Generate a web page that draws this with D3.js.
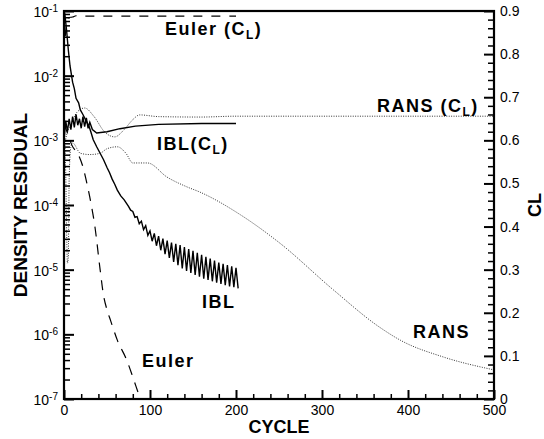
<!DOCTYPE html>
<html>
<head>
<meta charset="utf-8">
<script src="https://cdn.jsdelivr.net/npm/d3@7"></script>
<style>
  body { margin: 0; background: #fff; }
  svg { display: block; }
  text { font-family: "Liberation Sans", Arial, Helvetica, sans-serif; fill: #000; }
</style>
</head>
<body>
<div class="svg-container"></div>
<script>
// cycle / log10(residual)
var iblResCycle = [0, 1, 3, 5, 7, 10, 12, 14, 17, 19, 22, 25, 27, 29, 31, 34, 38, 42, 46, 50, 53, 56, 59, 62, 66];
var iblResLog   = [-1.0, -1.05, -1.3, -1.6, -1.85, -2.1, -2.2, -2.35, -2.42, -2.53, -2.6, -2.68, -2.73, -2.78, -2.86, -2.99, -3.1, -3.2, -3.3, -3.42, -3.5, -3.6, -3.68, -3.77, -3.86];
// sawtooth part of the IBL residual: one tooth per entry
var iblToothCycle = [70, 75, 80, 85, 90, 95, 100, 105, 110, 115, 120, 125, 130, 135, 140, 145, 150, 155, 160, 165, 170, 175, 180, 185, 190, 195, 200];
var iblToothHigh  = [-3.92, -4.02, -4.1, -4.18, -4.25, -4.32, -4.4, -4.44, -4.48, -4.52, -4.55, -4.58, -4.6, -4.62, -4.65, -4.68, -4.71, -4.74, -4.77, -4.8, -4.83, -4.86, -4.89, -4.91, -4.93, -4.95, -4.97];
var iblToothLow   = [-3.97, -4.08, -4.19, -4.29, -4.38, -4.47, -4.56, -4.63, -4.7, -4.76, -4.82, -4.88, -4.93, -4.98, -5.02, -5.05, -5.08, -5.11, -5.14, -5.16, -5.18, -5.2, -5.22, -5.24, -5.26, -5.27, -5.29];

var eulerResCycle = [0, 5, 9, 17, 22, 25, 30, 36, 42, 46, 50, 54, 62, 73, 80, 88, 91];
var eulerResLog   = [-2.75, -2.92, -3.07, -3.23, -3.41, -3.57, -3.88, -4.34, -5.0, -5.4, -5.62, -5.78, -6.09, -6.4, -6.66, -6.97, -7.08];

var ransResCycle = [0, 2, 4, 5, 6, 8, 10, 19, 30, 42, 50, 62, 72, 80, 97, 120, 143, 158, 205, 251, 313, 367, 391, 441, 500];
var ransResLog   = [-2.6, -3.5, -4.9, -4.8, -3.6, -3.1, -3.04, -3.2, -3.22, -3.2, -3.13, -3.1, -3.2, -3.35, -3.35, -3.57, -3.72, -3.8, -4.15, -4.59, -5.31, -5.89, -6.09, -6.35, -6.55];

// lift coefficient (right axis)
var iblClCycle = [0, 2, 4, 6, 8, 10, 12, 14, 16, 18, 20, 22, 24, 26, 28, 30, 33, 38, 50, 65, 83, 110, 160, 200];
var iblClValue = [0.6, 0.645, 0.62, 0.65, 0.625, 0.655, 0.63, 0.66, 0.635, 0.65, 0.628, 0.655, 0.632, 0.652, 0.628, 0.642, 0.625, 0.617, 0.62, 0.627, 0.633, 0.637, 0.639, 0.639];

var eulerClCycle = [0, 3, 6, 10, 14, 17, 20, 60, 120, 200];
var eulerClValue = [0.8, 0.87, 0.885, 0.886, 0.889, 0.887, 0.888, 0.888, 0.888, 0.888];

var ransClCycle = [0, 4, 7, 15, 24, 35, 47, 59, 70, 80, 88, 110, 159, 200, 300, 400, 500];
var ransClValue = [0.58, 0.62, 0.631, 0.665, 0.675, 0.655, 0.62, 0.608, 0.625, 0.648, 0.659, 0.655, 0.654, 0.656, 0.656, 0.656, 0.656];

var xMajor = [0, 100, 200, 300, 400, 500];
var yDecades = [-7, -6, -5, -4, -3, -2, -1];
var clMajor = [0, 0.1, 0.2, 0.3, 0.4, 0.5, 0.6, 0.7, 0.8, 0.9];

var width = 544, height = 439;
var pL = 64, pR = 494, pT = 11, pB = 399;

var svg = d3.select(".svg-container").append("svg")
  .attr("width", width).attr("height", height);

var x = d3.scaleLinear().domain([0, 500]).range([pL, pR]);
var yRes = d3.scaleLog().domain([1e-7, 1e-1]).range([pB, pT]);
var yCl = d3.scaleLinear().domain([0, 0.9]).range([pB, pT]);

svg.append("clipPath").attr("id", "plot")
  .append("rect").attr("x", pL).attr("y", pT)
  .attr("width", pR - pL).attr("height", pB - pT);

var zip = (cs, vs) => cs.map((c, i) => [c, vs[i]]);

var resLine = d3.line().x(d => x(d[0])).y(d => yRes(Math.pow(10, d[1])));
var clLine = d3.line().x(d => x(d[0])).y(d => yCl(d[1]));

var iblRes = zip(iblResCycle, iblResLog);
iblToothCycle.forEach((c, i) => {
  iblRes.push([c, iblToothHigh[i]]);
  iblRes.push([c + 2.5, iblToothLow[i]]);
});

var g = svg.append("g").attr("clip-path", "url(#plot)");

// RANS: dotted
g.append("path").attr("d", resLine.curve(d3.curveMonotoneX)(zip(ransResCycle, ransResLog)))
  .attr("fill", "none").attr("stroke", "#333").attr("stroke-width", 1).attr("stroke-dasharray", "1,1.4");
g.append("path").attr("d", clLine.curve(d3.curveMonotoneX)(zip(ransClCycle, ransClValue)))
  .attr("fill", "none").attr("stroke", "#333").attr("stroke-width", 1).attr("stroke-dasharray", "1,1.4");

// Euler: dashed
g.append("path").attr("d", resLine.curve(d3.curveMonotoneX)(zip(eulerResCycle, eulerResLog)))
  .attr("fill", "none").attr("stroke", "#000").attr("stroke-width", 1.2).attr("stroke-dasharray", "10,8");
g.append("path").attr("d", clLine.curve(d3.curveMonotoneX)(zip(eulerClCycle, eulerClValue)))
  .attr("fill", "none").attr("stroke", "#000").attr("stroke-width", 1.2).attr("stroke-dasharray", "9,9");

// IBL: solid
g.append("path").attr("d", resLine.curve(d3.curveLinear)(iblRes))
  .attr("fill", "none").attr("stroke", "#000").attr("stroke-width", 1.4);
g.append("path").attr("d", clLine.curve(d3.curveLinear)(zip(iblClCycle, iblClValue)))
  .attr("fill", "none").attr("stroke", "#000").attr("stroke-width", 1.4);

// axes, ticks point inwards
var tickStyle = (sel, w) => {
  sel.select(".domain").remove();
  sel.selectAll("line").attr("stroke", "#000").attr("stroke-width", w);
  sel.selectAll("text").style("font-size", "14px");
};

var xMinor = d3.range(0, 501, 20).filter(v => v % 100 !== 0);
svg.append("g").attr("transform", `translate(0,${pB})`)
  .call(d3.axisBottom(x).tickValues(xMinor).tickSizeInner(-5).tickFormat(""))
  .call(tickStyle, 1.5);
svg.append("g").attr("transform", `translate(0,${pB})`)
  .call(d3.axisBottom(x).tickValues(xMajor).tickSizeInner(-9).tickPadding(6).tickFormat(d3.format("d")))
  .call(tickStyle, 2);

var yMinor = [];
yDecades.slice(0, -1).forEach(e => {
  [2, 3, 4, 5, 6, 7, 8, 9].forEach(m => yMinor.push(m * Math.pow(10, e)));
});
svg.append("g").attr("transform", `translate(${pL},0)`)
  .call(d3.axisLeft(yRes).tickValues(yMinor).tickSizeInner(-6).tickFormat(""))
  .call(tickStyle, 1.5);
var yAxis = svg.append("g").attr("transform", `translate(${pL},0)`)
  .call(d3.axisLeft(yRes).tickValues(yDecades.map(e => Math.pow(10, e))).tickSizeInner(-10).tickPadding(6))
  .call(tickStyle, 2);
yAxis.selectAll(".tick text").each(function(d) {
  var t = d3.select(this).text(null).attr("dy", "0.4em");
  t.append("tspan").text("10");
  t.append("tspan").attr("dy", "-0.5em").style("font-size", "10px").text(Math.round(Math.log10(d)));
});

var clMinor = d3.range(0, 91, 2).filter(v => v % 10 !== 0).map(v => v / 100);
svg.append("g").attr("transform", `translate(${pR},0)`)
  .call(d3.axisRight(yCl).tickValues(clMinor).tickSizeInner(-6).tickFormat(""))
  .call(tickStyle, 1.5);
svg.append("g").attr("transform", `translate(${pR},0)`)
  .call(d3.axisRight(yCl).tickValues(clMajor).tickSizeInner(-10).tickPadding(6)
    .tickFormat(d => d === 0 ? "0" : d.toFixed(1)))
  .call(tickStyle, 2);

// frame
svg.append("rect").attr("x", pL).attr("y", pT)
  .attr("width", pR - pL).attr("height", pB - pT)
  .attr("fill", "none").attr("stroke", "#000").attr("stroke-width", 2.2);

// axis titles
svg.append("text").attr("x", (pL + pR) / 2).attr("y", 433)
  .attr("text-anchor", "middle").style("font-size", "18px").style("font-weight", "bold")
  .text("CYCLE");
svg.append("text").attr("transform", `translate(27,${(pT + pB) / 2}) rotate(-90)`)
  .attr("text-anchor", "middle").style("font-size", "19px").style("font-weight", "bold")
  .text("DENSITY RESIDUAL");
svg.append("text").attr("transform", `translate(541,${(pT + pB) / 2}) rotate(-90)`)
  .attr("text-anchor", "middle").style("font-size", "18px").style("font-weight", "bold")
  .text("CL");

// curve labels
var label = (px, py, main, sub) => {
  var t = svg.append("text").attr("x", px).attr("y", py)
    .style("font-size", "18px").style("font-weight", "bold").style("letter-spacing", "1.5px");
  t.append("tspan").text(main);
  if (sub) {
    t.append("tspan").attr("dy", 4).style("font-size", "12px").text(sub);
    t.append("tspan").attr("dy", -4).text(")");
  }
};
label(165, 35, "Euler (C", "L");
label(377, 112, "RANS (C", "L");
label(157, 150, "IBL(C", "L");
label(202, 308, "IBL");
label(142, 367, "Euler");
label(413, 338, "RANS");
</script>
</body>
</html>
